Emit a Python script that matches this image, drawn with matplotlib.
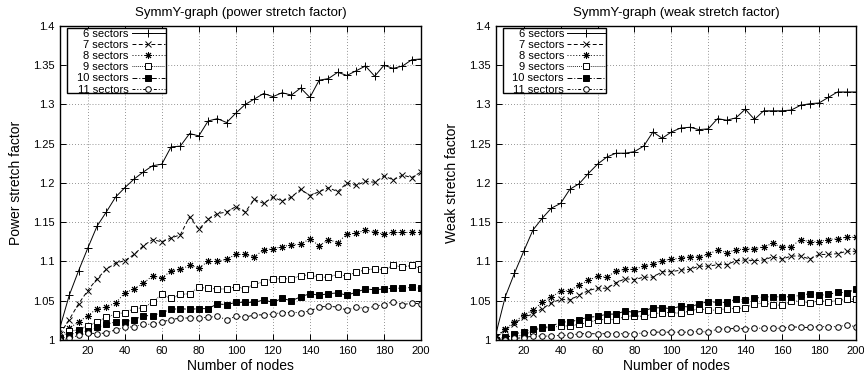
import matplotlib
matplotlib.use("Agg")
import matplotlib.pyplot as plt
from matplotlib.ticker import FuncFormatter, FixedLocator
from matplotlib.patches import Rectangle

plt.rcParams['font.family'] = ['Liberation Sans', 'DejaVu Sans']

nodes = list(range(5, 201, 5))

power_6 = [1.016, 1.057, 1.088, 1.117, 1.145, 1.163, 1.182, 1.194, 1.205, 1.214,
           1.222, 1.224, 1.246, 1.247, 1.263, 1.260, 1.279, 1.282, 1.277, 1.289,
           1.300, 1.307, 1.314, 1.310, 1.315, 1.312, 1.321, 1.309, 1.331, 1.333,
           1.341, 1.337, 1.343, 1.349, 1.336, 1.350, 1.346, 1.349, 1.357, 1.358]
power_7 = [1.008, 1.026, 1.046, 1.063, 1.078, 1.090, 1.098, 1.101, 1.109, 1.120,
           1.128, 1.125, 1.130, 1.134, 1.157, 1.141, 1.154, 1.161, 1.163, 1.170,
           1.163, 1.179, 1.174, 1.182, 1.177, 1.182, 1.192, 1.184, 1.189, 1.194,
           1.189, 1.200, 1.197, 1.202, 1.201, 1.209, 1.204, 1.210, 1.207, 1.214]
power_8 = [1.004, 1.015, 1.023, 1.031, 1.040, 1.042, 1.047, 1.060, 1.065, 1.072,
           1.082, 1.079, 1.088, 1.090, 1.095, 1.092, 1.100, 1.100, 1.103, 1.109,
           1.109, 1.106, 1.115, 1.116, 1.119, 1.121, 1.122, 1.129, 1.120, 1.128,
           1.124, 1.135, 1.136, 1.140, 1.137, 1.135, 1.137, 1.137, 1.137, 1.137]
power_9 = [1.003, 1.011, 1.013, 1.018, 1.023, 1.029, 1.033, 1.035, 1.040, 1.041,
           1.048, 1.058, 1.053, 1.058, 1.059, 1.067, 1.066, 1.065, 1.065, 1.068,
           1.065, 1.071, 1.074, 1.078, 1.078, 1.078, 1.082, 1.083, 1.080, 1.080,
           1.084, 1.081, 1.087, 1.089, 1.091, 1.089, 1.095, 1.093, 1.095, 1.091]
power_10 = [1.001, 1.006, 1.011, 1.011, 1.016, 1.020, 1.023, 1.023, 1.026, 1.031,
            1.031, 1.035, 1.039, 1.040, 1.039, 1.040, 1.040, 1.046, 1.045, 1.048,
            1.048, 1.048, 1.051, 1.048, 1.053, 1.050, 1.055, 1.059, 1.057, 1.059,
            1.060, 1.057, 1.061, 1.065, 1.064, 1.065, 1.066, 1.066, 1.067, 1.066]
power_11 = [1.000, 1.002, 1.006, 1.009, 1.008, 1.009, 1.013, 1.016, 1.017, 1.020,
            1.020, 1.023, 1.026, 1.028, 1.028, 1.028, 1.029, 1.030, 1.026, 1.030,
            1.029, 1.032, 1.032, 1.033, 1.035, 1.035, 1.035, 1.037, 1.042, 1.043,
            1.042, 1.038, 1.042, 1.040, 1.043, 1.045, 1.049, 1.045, 1.047, 1.046]

weak_6 = [1.008, 1.055, 1.085, 1.113, 1.140, 1.155, 1.168, 1.174, 1.192, 1.199,
          1.212, 1.224, 1.233, 1.238, 1.238, 1.240, 1.247, 1.265, 1.257, 1.265,
          1.270, 1.271, 1.268, 1.269, 1.282, 1.280, 1.283, 1.294, 1.281, 1.292,
          1.292, 1.292, 1.293, 1.299, 1.301, 1.302, 1.309, 1.316, 1.316, 1.316]
weak_7 = [1.004, 1.013, 1.021, 1.029, 1.033, 1.040, 1.047, 1.052, 1.051, 1.057,
          1.063, 1.066, 1.066, 1.073, 1.078, 1.077, 1.080, 1.080, 1.087, 1.087,
          1.089, 1.090, 1.094, 1.094, 1.096, 1.096, 1.101, 1.102, 1.101, 1.102,
          1.106, 1.103, 1.107, 1.107, 1.103, 1.109, 1.109, 1.110, 1.113, 1.113]
weak_8 = [1.004, 1.014, 1.023, 1.032, 1.038, 1.048, 1.055, 1.062, 1.063, 1.070,
          1.076, 1.081, 1.080, 1.088, 1.090, 1.090, 1.094, 1.097, 1.101, 1.103,
          1.104, 1.106, 1.106, 1.109, 1.115, 1.111, 1.115, 1.116, 1.116, 1.119,
          1.123, 1.118, 1.119, 1.128, 1.125, 1.125, 1.128, 1.129, 1.131, 1.131]
weak_9 = [1.000, 1.004, 1.005, 1.006, 1.012, 1.015, 1.016, 1.018, 1.018, 1.020,
          1.022, 1.026, 1.026, 1.026, 1.030, 1.031, 1.030, 1.033, 1.035, 1.035,
          1.034, 1.037, 1.040, 1.038, 1.038, 1.040, 1.040, 1.041, 1.046, 1.047,
          1.045, 1.044, 1.050, 1.049, 1.047, 1.050, 1.049, 1.050, 1.052, 1.052]
weak_10 = [1.000, 1.002, 1.008, 1.010, 1.014, 1.016, 1.017, 1.023, 1.023, 1.026,
           1.029, 1.030, 1.033, 1.033, 1.037, 1.035, 1.037, 1.041, 1.041, 1.040,
           1.043, 1.042, 1.046, 1.049, 1.048, 1.048, 1.052, 1.051, 1.053, 1.055,
           1.055, 1.055, 1.055, 1.057, 1.059, 1.057, 1.058, 1.061, 1.060, 1.065]
weak_11 = [1.000, 1.000, 1.002, 1.003, 1.005, 1.005, 1.005, 1.006, 1.006, 1.008,
           1.008, 1.008, 1.008, 1.008, 1.008, 1.008, 1.009, 1.010, 1.010, 1.010,
           1.010, 1.010, 1.011, 1.010, 1.014, 1.014, 1.015, 1.014, 1.015, 1.015,
           1.015, 1.015, 1.017, 1.016, 1.016, 1.017, 1.017, 1.017, 1.019, 1.017]

labels = ["6 sectors", "7 sectors", "8 sectors", "9 sectors", "10 sectors", "11 sectors"]
x_ticks = [20, 40, 60, 80, 100, 120, 140, 160, 180, 200]
y_ticks = [1.0, 1.05, 1.1, 1.15, 1.2, 1.25, 1.3, 1.35, 1.4]

styles = [
    dict(linestyle='-', marker='+', markersize=5.5, mfc='black'),
    dict(linestyle=(0, (4, 2.5)), marker='x', markersize=4, mfc='black'),
    dict(linestyle=(0, (1, 2)), marker=(8, 2, 0), markersize=5, mfc='black'),
    dict(linestyle=(0, (0.8, 1.2)), marker='s', markersize=3.8, mfc='white'),
    dict(linestyle=(0, (5, 2, 1, 2)), marker='s', markersize=3.8, mfc='black'),
    dict(linestyle=(0, (3, 2, 1, 2, 1, 2)), marker='o', markersize=4, mfc='white'),
]

W, H = 864, 377
fig = plt.figure(figsize=(W / 100, H / 100), dpi=100)
ax1 = fig.add_axes([60/W, 37/H, 361/W, 314/H])
ax2 = fig.add_axes([496/W, 37/H, 360/W, 314/H])

# (axes, series, title, ylabel, legend box left/right px offset from axes left, handlelength)
panels = [
    (ax1, [power_6, power_7, power_8, power_9, power_10, power_11],
     "SymmY-graph (power stretch factor)", "Power stretch factor", 7, 106, 3.0),
    (ax2, [weak_6, weak_7, weak_8, weak_9, weak_10, weak_11],
     "SymmY-graph (weak stretch factor)", "Weak stretch factor", 7, 110, 3.4),
]

fmt = FuncFormatter(lambda v, p: "%g" % round(v, 3))

for ax, series, title, ylabel, bl, br, hl in panels:
    for vals, lab, st in zip(series, labels, styles):
        ax.plot(nodes, vals, color='black', lw=0.7, mec='black', mew=0.7,
                label=lab, **st)
    ax.set_xlim(5, 200)
    ax.set_ylim(1.0, 1.4)
    ax.xaxis.set_major_locator(FixedLocator(x_ticks))
    ax.yaxis.set_major_locator(FixedLocator(y_ticks))
    ax.yaxis.set_major_formatter(fmt)
    ax.tick_params(direction='in', length=4, width=0.7, top=True, right=True,
                   labelsize=8, colors='black')
    ax.tick_params(axis='y', pad=4)
    ax.tick_params(axis='x', pad=4)
    ax.grid(True, color='0.45', linestyle=(0, (1, 2.5)), linewidth=0.6)
    for s in ax.spines.values():
        s.set_linewidth(1.0)
    ax.set_title(title, fontsize=9.5, pad=7)
    ax.set_xlabel("Number of nodes", fontsize=10)
    ax.set_ylabel(ylabel, fontsize=10)
    ax.xaxis.set_label_coords(0.5, -19/314)
    ax.yaxis.set_label_coords(-37/361, 0.5)

    aw = ax.get_position().width * W
    ah = ax.get_position().height * H
    top_off, bot_off = 2, 67
    box = Rectangle((bl / aw, 1 - bot_off / ah), (br - bl) / aw, (bot_off - top_off) / ah,
                    transform=ax.transAxes, facecolor='white', edgecolor='black',
                    linewidth=1.0, zorder=4.5, clip_on=False)
    ax.add_patch(box)
    leg = ax.legend(loc='upper right', bbox_to_anchor=((br - 1) / aw, 1 - 3 / ah),
                    borderaxespad=0, borderpad=0, markerfirst=False, fontsize=8,
                    handlelength=hl, handletextpad=0.3, labelspacing=0.1,
                    frameon=False)
    leg.set_zorder(5)

fig.savefig("out.png", dpi=100)
